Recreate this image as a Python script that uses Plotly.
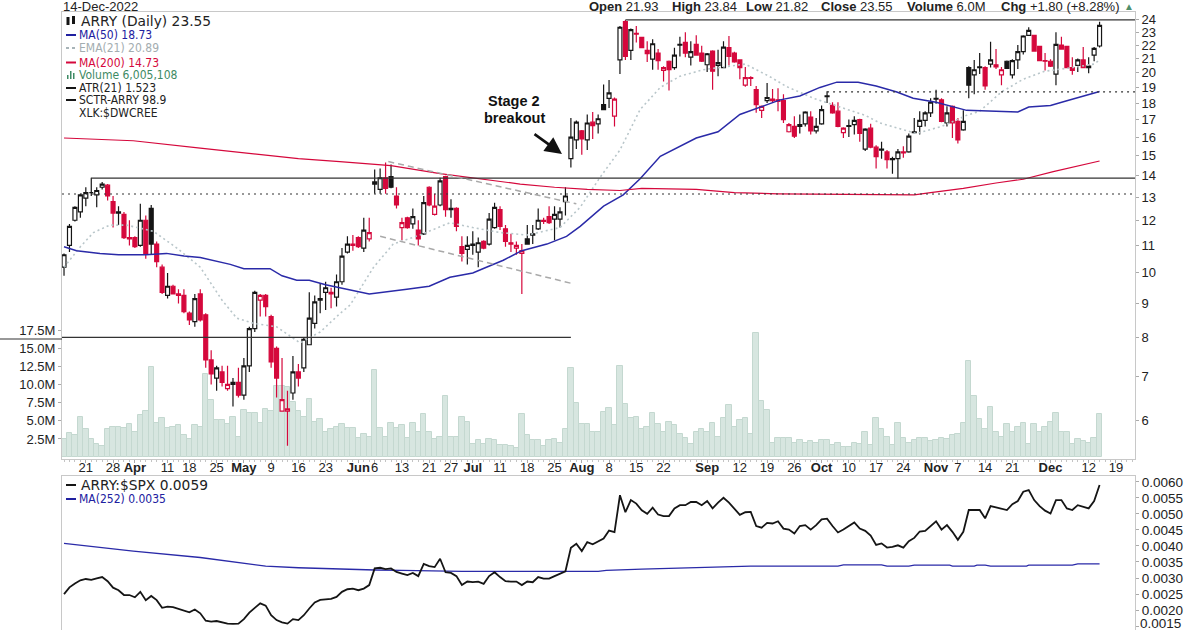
import plotly.graph_objects as go

# bar position of each labelled date (trading days since 15-Mar-2022)
tick_pos = [4, 9, 13, 19, 23, 28, 33, 38, 43, 48, 54, 57, 62, 67, 71, 75, 80, 85, 90, 95, 100, 105, 110,
            118, 124, 129, 134, 139, 144, 149, 154, 160, 164, 169, 174, 181, 188, 193]
tick_txt = ['21', '28', '<b>Apr</b>', '11', '18', '25', '<b>May</b>', '9', '16', '23', '<b>Jun</b>', '6', '13', '21', '27',
            '<b>Jul</b>', '11', '18', '25', '<b>Aug</b>', '8', '15', '22', '<b>Sep</b>', '12', '19', '26', '<b>Oct</b>', '10',
            '17', '24', '<b>Nov</b>', '7', '14', '21', '<b>Dec</b>', '12', '19']

opens = [10.2, 11.0, 12.0, 12.35, 12.95, 13.2, 13.1, 13.45, 13.55, 12.8, 12.3, 12.25, 11.3, 11.3, 11.0, 12.0, 12.5, 11.05, 10.2, 9.25,
         9.55, 9.3, 9.25, 8.7, 8.45, 9.3, 8.65, 7.4, 6.95, 7.1, 6.7, 6.8, 6.85, 6.55, 7.25, 8.25, 9.1, 9.25, 8.6, 7.7,
         6.2, 6.2, 6.6, 7.1, 7.2, 7.8, 8.4, 9.1, 9.35, 9.35, 9.2, 9.7, 10.75, 11.05, 11.3, 10.9, 11.25, 13.6, 13.35, 13.9,
         13.95, 13.05, 11.7, 12.1, 11.85, 11.6, 11.45, 13.45, 12.25, 12.65, 13.95, 12.45, 12.5, 10.95, 10.85, 11.0, 10.75, 11.15, 11.05, 11.7,
         12.45, 11.65, 11.1, 10.9, 10.7, 11.25, 11.4, 11.65, 12.0, 12.15, 12.05, 12.05, 12.8, 14.85, 15.85, 16.35, 15.85, 16.85, 16.75, 17.9,
         18.3, 17.2, 20.9, 23.85, 21.6, 22.9, 22.6, 21.6, 20.95, 21.4, 20.15, 20.8, 20.35, 22.0, 22.2, 21.1, 22.05, 21.4, 20.55, 21.55,
         20.5, 20.35, 21.8, 21.4, 20.9, 19.15, 19.65, 18.85, 17.55, 18.15, 18.25, 18.2, 18.15, 16.3, 16.6, 16.6, 16.75, 17.15, 16.35, 16.75,
         18.4, 17.85, 17.5, 16.25, 16.6, 16.7, 17.0, 15.35, 16.5, 15.45, 15.3, 15.2, 14.8, 14.85, 15.2, 15.2, 16.25, 16.6, 16.95, 17.4,
         18.25, 18.2, 16.8, 17.8, 16.9, 16.4, 20.35, 19.85, 20.35, 20.35, 20.6, 20.55, 19.85, 20.8, 19.85, 20.9, 21.5, 22.75, 22.75, 21.9,
         20.85, 20.8, 19.9, 22.0, 21.9, 20.35, 20.5, 20.9, 20.35, 21.25, 21.93]
highs = [10.7, 11.85, 12.6, 13.15, 13.45, 13.9, 13.45, 13.7, 13.6, 13.05, 12.6, 12.35, 12.0, 11.35, 12.7, 12.2, 12.65, 11.15, 10.3, 10.0,
         9.6, 9.45, 9.45, 8.75, 9.3, 9.45, 8.7, 7.65, 7.25, 7.25, 7.25, 6.95, 7.2, 7.45, 8.3, 9.4, 9.3, 9.3, 8.65, 7.75,
         7.45, 6.65, 7.5, 7.3, 8.0, 9.35, 9.25, 9.65, 9.7, 9.5, 9.95, 10.9, 11.35, 11.4, 11.35, 12.1, 12.1, 14.3, 14.35, 14.65,
         14.55, 13.45, 12.1, 12.15, 12.5, 12.0, 13.05, 13.5, 13.15, 13.9, 14.0, 12.9, 12.55, 11.35, 11.35, 11.55, 11.3, 11.2, 12.3, 12.75,
         12.6, 11.8, 11.45, 11.15, 11.05, 11.8, 11.8, 12.5, 12.1, 12.6, 12.6, 12.55, 13.45, 17.1, 16.95, 16.4, 17.3, 17.45, 17.3, 19.2,
         19.5, 18.35, 23.5, 24.0, 23.3, 23.5, 22.65, 22.3, 22.45, 21.7, 20.45, 20.85, 21.8, 22.65, 23.0, 22.3, 22.75, 21.95, 21.4, 21.6,
         21.65, 22.3, 22.7, 21.5, 20.95, 20.4, 19.75, 19.1, 17.85, 19.3, 18.9, 18.95, 18.55, 16.8, 17.2, 17.3, 17.5, 17.5, 17.1, 17.85,
         18.75, 18.05, 18.05, 16.55, 17.0, 17.2, 17.05, 16.5, 16.75, 15.55, 15.75, 15.3, 14.95, 15.35, 15.5, 16.2, 17.1, 17.5, 17.5, 18.3,
         18.85, 18.3, 17.8, 17.85, 17.1, 17.55, 20.45, 20.9, 21.4, 20.45, 22.25, 21.7, 20.4, 20.85, 20.95, 22.0, 22.75, 23.4, 22.8, 21.95,
         21.4, 20.95, 23.0, 22.65, 21.95, 21.1, 21.0, 21.85, 21.1, 21.85, 23.84]
lows = [9.9, 10.75, 11.95, 12.1, 12.6, 13.05, 12.55, 13.35, 12.85, 11.7, 11.8, 11.25, 11.0, 10.9, 10.95, 10.5, 10.65, 10.2, 9.3, 9.15,
        9.3, 9.0, 8.7, 8.35, 8.3, 8.45, 7.2, 6.8, 6.65, 6.75, 6.65, 6.3, 6.5, 6.45, 7.1, 8.15, 8.6, 8.6, 7.2, 6.5,
        6.2, 5.5, 6.45, 6.75, 7.1, 7.8, 8.25, 8.7, 8.8, 8.85, 8.9, 9.6, 10.7, 10.8, 10.9, 10.75, 11.15, 13.15, 13.15, 13.15,
        13.4, 12.5, 11.2, 11.65, 11.65, 11.0, 11.4, 12.6, 12.2, 12.6, 12.15, 12.1, 11.55, 10.4, 10.3, 10.65, 10.2, 10.85, 11.0, 11.65,
        11.6, 10.95, 10.75, 10.65, 9.3, 11.05, 11.05, 11.6, 11.85, 11.85, 11.2, 11.7, 12.2, 14.4, 15.35, 15.05, 15.3, 15.9, 16.2, 17.55,
        17.7, 16.6, 19.9, 20.9, 20.9, 22.2, 21.75, 20.75, 20.2, 20.2, 19.4, 18.8, 20.2, 21.15, 21.1, 20.5, 21.2, 20.75, 20.05, 18.85,
        19.75, 20.3, 20.5, 20.7, 19.55, 19.05, 19.1, 17.4, 17.1, 18.0, 18.0, 17.5, 16.8, 16.25, 15.95, 16.2, 16.6, 16.15, 16.2, 16.7,
        18.0, 17.35, 16.55, 15.95, 16.0, 16.15, 15.75, 15.25, 15.4, 14.35, 14.85, 14.35, 14.1, 13.85, 14.9, 15.15, 16.2, 16.15, 16.6, 17.15,
        17.95, 16.85, 16.6, 15.95, 15.65, 16.35, 18.3, 18.55, 19.9, 18.85, 20.35, 20.25, 19.15, 20.25, 19.6, 20.25, 21.3, 22.7, 21.5, 20.8,
        20.15, 20.4, 19.15, 21.65, 20.3, 19.85, 20.05, 20.3, 19.95, 20.8, 21.82]
closes = [10.65, 11.75, 12.55, 13.1, 13.2, 13.2, 13.3, 13.6, 13.05, 12.3, 12.35, 11.3, 11.25, 10.95, 12.0, 10.7, 11.05, 10.4, 9.35, 9.55,
          9.3, 9.25, 8.75, 8.5, 9.15, 8.5, 7.4, 7.05, 7.2, 6.85, 6.8, 6.85, 6.55, 7.25, 8.25, 9.35, 9.25, 8.9, 7.35, 6.95,
          6.45, 6.25, 7.1, 6.95, 7.95, 8.55, 9.05, 9.15, 9.5, 9.3, 9.7, 10.6, 11.05, 11.0, 10.95, 11.6, 11.5, 13.7, 13.9, 13.4,
          13.45, 12.65, 11.9, 11.7, 12.15, 11.25, 12.75, 12.65, 12.6, 13.75, 12.45, 12.5, 11.75, 10.7, 11.0, 11.05, 11.1, 10.9, 12.05, 12.55,
          11.75, 11.15, 11.05, 11.0, 10.8, 11.05, 11.45, 12.0, 11.95, 11.9, 12.25, 12.35, 13.05, 16.0, 16.85, 15.9, 16.8, 16.65, 17.05, 17.6,
          18.65, 18.25, 23.4, 21.15, 23.2, 22.85, 21.8, 21.35, 22.1, 20.85, 20.35, 20.2, 21.25, 22.05, 21.4, 21.5, 21.25, 20.8, 21.35, 20.1,
          20.7, 21.85, 21.15, 20.75, 20.35, 19.65, 19.6, 17.9, 17.8, 18.35, 18.15, 18.1, 17.0, 16.7, 16.05, 16.7, 17.45, 16.35, 16.6, 17.6,
          18.45, 17.4, 16.6, 16.5, 16.65, 16.95, 16.2, 16.45, 15.45, 14.95, 15.35, 14.8, 14.85, 15.2, 15.15, 16.05, 16.3, 16.95, 17.4, 18.05,
          18.3, 16.9, 17.4, 16.8, 15.85, 16.9, 19.15, 20.2, 20.4, 19.1, 20.9, 20.4, 20.2, 20.3, 20.85, 21.5, 22.7, 23.15, 21.55, 20.85,
          20.8, 20.45, 22.05, 21.7, 20.35, 20.15, 20.9, 20.35, 20.45, 21.75, 23.55]
volumes = [2.5, 3.3, 3.0, 5.6, 3.9, 2.5, 1.8, 1.5, 3.9, 4.2, 4.1, 4.0, 4.6, 3.4, 5.8, 6.4, 12.5, 4.7, 5.4, 4.0,
           4.1, 4.4, 3.0, 2.5, 4.4, 4.1, 11.5, 7.9, 5.1, 5.1, 4.6, 5.6, 2.8, 6.5, 6.1, 6.1, 4.7, 6.7, 6.4, 9.9,
           9.9, 9.7, 7.6, 6.4, 5.6, 8.1, 4.8, 5.3, 3.4, 3.9, 4.2, 4.6, 4.0, 4.0, 2.7, 3.2, 2.8, 12.0, 4.0, 2.8,
           4.7, 4.0, 4.4, 2.7, 4.7, 3.5, 6.0, 3.5, 2.5, 2.8, 8.5, 2.8, 2.8, 5.6, 4.9, 1.8, 2.4, 1.8, 2.5, 2.3,
           1.6, 1.6, 1.5, 1.3, 6.0, 3.0, 2.3, 2.3, 1.5, 2.3, 2.5, 2.0, 3.9, 12.4, 7.5, 4.6, 4.6, 3.5, 3.5, 6.3,
           6.8, 4.4, 12.6, 7.4, 5.4, 5.6, 3.9, 4.2, 6.1, 4.6, 3.5, 4.9, 4.4, 3.2, 2.7, 1.8, 3.4, 3.9, 3.4, 4.7,
           2.8, 5.4, 7.2, 4.2, 5.1, 5.4, 3.2, 17.2, 7.8, 6.5, 2.0, 2.7, 2.7, 2.7, 2.0, 2.3, 2.0, 2.2, 2.0, 2.3,
           2.3, 1.6, 2.0, 1.4, 1.4, 2.0, 1.8, 3.4, 1.6, 5.4, 3.9, 2.8, 1.6, 4.7, 2.7, 2.0, 2.3, 2.7, 2.7, 2.2,
           2.3, 2.7, 2.5, 3.0, 3.2, 4.7, 13.3, 8.5, 5.3, 3.9, 7.0, 3.5, 2.8, 4.6, 3.5, 4.1, 4.7, 1.8, 4.6, 3.5,
           4.1, 4.9, 6.1, 3.4, 3.5, 1.8, 2.5, 2.2, 2.0, 2.7, 6.01]

ma50_x = [0, 2.3, 6.6, 10, 15, 18.8, 22, 25, 30.5, 33, 37.8, 40, 42.7, 45, 48, 50.6, 56, 62.9, 67, 70.8, 75, 77.5, 80.6, 84,
          88.6, 92.2, 94.7, 99, 102.6, 105.7, 109.4, 116, 120, 124, 127.7, 131.4, 135, 138.7, 141.8, 145.7, 149, 152.8,
          155.8, 160, 165.6, 170.5, 175, 177, 181, 184, 190]
ma50_y = [10.95, 10.8, 10.7, 10.65, 10.65, 10.7, 10.6, 10.55, 10.3, 10.15, 10.15, 9.9, 9.75, 9.75, 9.6, 9.5, 9.3, 9.45, 9.55, 9.85, 10.0, 10.2, 10.45, 10.8,
          11.05, 11.35, 11.75, 12.6, 13.1, 13.85, 14.97, 15.95, 16.3, 17.3, 17.75, 18.2, 18.45, 19.0, 19.35, 19.35, 19.1, 18.7,
          18.3, 18.05, 17.55, 17.5, 17.45, 17.75, 17.85, 18.15, 18.73]
ema21_x = [0, 3, 5.4, 8.4, 11.5, 16.4, 20.7, 25, 29, 31.7, 34.8, 39, 43.3, 47, 50.7, 52.5, 56.8, 60.4, 65.3, 70.8, 75, 80, 85, 91, 94.7, 98.3,
           102, 105.7, 109.4, 113, 117.3, 121, 125, 129.6, 132.6, 137.5, 141.2, 147, 149.7, 154, 156.4, 161, 165.6, 168, 172, 176, 180, 185, 189, 190]
ema21_y = [10.2, 10.95, 11.5, 11.8, 11.8, 11.55, 10.9, 10.2, 9.1, 8.55, 8.4, 8.3, 7.85, 8.15, 8.7, 8.95, 10.2, 11.05, 11.4, 11.9, 11.7, 11.5, 11.4, 11.7, 12.55, 13.9,
           15.3, 17.6, 19.0, 19.75, 20.2, 20.4, 20.6, 19.7, 19.05, 18.3, 17.9, 17.25, 16.8, 16.4, 16.2, 16.6, 17.25, 17.5, 18.7, 19.55, 20.1, 20.35, 20.6, 20.89]
ma200_x = [0, 12.7, 25, 43, 50.6, 60, 69, 75, 83.7, 90, 96, 102, 106, 116, 123, 131, 153, 156, 159, 165, 171, 176, 181.5, 190]
ma200_y = [15.95, 15.8, 15.4, 14.85, 14.7, 14.5, 14.1, 13.9, 13.6, 13.45, 13.35, 13.3, 13.4, 13.35, 13.2, 13.15, 13.1, 13.1, 13.2, 13.4, 13.65, 13.83, 14.2, 14.73]

ratio = [2.50, 2.71, 2.83, 2.93, 2.97, 2.94, 2.99, 3.03, 2.90, 2.70, 2.62, 2.47, 2.47, 2.40, 2.57, 2.31, 2.44, 2.31, 2.07, 2.11,
         2.09, 2.03, 1.98, 1.93, 2.02, 1.90, 1.67, 1.64, 1.66, 1.62, 1.58, 1.57, 1.58, 1.72, 1.92, 2.07, 2.21, 2.14, 1.84, 1.69,
         1.62, 1.58, 1.72, 1.69, 1.84, 2.05, 2.24, 2.32, 2.34, 2.35, 2.41, 2.57, 2.65, 2.67, 2.62, 2.67, 2.78, 3.30, 3.32, 3.28,
         3.30, 3.19, 3.14, 3.09, 3.16, 3.06, 3.44, 3.37, 3.34, 3.60, 3.18, 3.16, 3.06, 2.78, 2.89, 2.87, 2.89, 2.82, 3.06, 3.18,
         3.03, 2.90, 2.89, 2.89, 2.78, 2.89, 2.87, 3.03, 2.98, 2.98, 3.06, 3.13, 3.21, 3.94, 4.07, 3.84, 4.12, 4.05, 4.15, 4.23,
         4.48, 4.43, 5.58, 5.05, 5.43, 5.32, 5.11, 5.00, 5.19, 4.98, 4.93, 4.93, 5.17, 5.27, 5.27, 5.37, 5.37, 5.27, 5.40, 5.17,
         5.35, 5.50, 5.35, 5.17, 4.97, 5.05, 5.06, 4.62, 4.57, 4.72, 4.70, 4.77, 4.54, 4.51, 4.39, 4.62, 4.65, 4.51, 4.65, 4.83,
         4.85, 4.62, 4.42, 4.51, 4.62, 4.73, 4.54, 4.47, 4.32, 4.03, 4.08, 3.95, 3.97, 4.02, 3.95, 4.15, 4.25, 4.45, 4.47, 4.63,
         4.77, 4.51, 4.65, 4.44, 4.19, 4.44, 5.12, 5.12, 5.12, 4.86, 5.24, 5.20, 5.15, 5.12, 5.30, 5.40, 5.69, 5.74, 5.43, 5.24,
         5.10, 5.01, 5.43, 5.43, 5.17, 5.12, 5.27, 5.22, 5.17, 5.40, 5.90]
ma252_x = [0, 12.7, 25, 37, 43, 49, 57, 62, 73, 98, 99.5, 106, 117, 126, 135, 142, 143, 150, 151, 155, 156, 162.5, 163, 167, 167.5,
           169, 170, 176.6, 177, 185, 186, 190]
ma252_y = [4.08, 3.84, 3.64, 3.37, 3.32, 3.28, 3.25, 3.24, 3.21, 3.21, 3.24, 3.28, 3.33, 3.37, 3.37, 3.37, 3.41, 3.41, 3.37, 3.37, 3.40, 3.40, 3.37, 3.37, 3.40,
           3.40, 3.37, 3.37, 3.40, 3.40, 3.44, 3.44]

price_ticks = [24, 23, 22, 21, 20, 19, 18, 17, 16, 15, 14, 13, 12, 11, 10, 9, 8, 7, 6]
vol_ticks = [2.5, 5.0, 7.5, 10.0, 12.5, 15.0, 17.5]
ratio_ticks = [6.0, 5.5, 5.0, 4.5, 4.0, 3.5, 3.0, 2.5, 2.0, 1.5]

RED = '#d5083c'
BLACK = '#151515'
BLUE = '#2a2aa8'
FONT = 'Liberation Sans'
NARROW = 'DejaVu Sans Condensed'
FRAME = '#c8c8c8'


def xp(px):
    return (px - 62) / 1073


def yp(py):
    return (630 - py) / 618


def label(px, py, text, color='#222222', size=12, family=FONT, anchor='left'):
    return dict(x=xp(px), y=yp(py), xref='paper', yref='paper', text=text, showarrow=False, xanchor=anchor,
                yanchor='middle', align=anchor, borderpad=0, font=dict(size=size, color=color, family=family))


def key_line(py, color, dash='solid'):
    return dict(type='line', xref='paper', yref='paper', x0=xp(66), x1=xp(76), y0=yp(py), y1=yp(py),
                line=dict(color=color, width=2, dash=dash))


def key_box(x0, x1, y0, y1, color):
    return dict(type='rect', xref='paper', yref='paper', x0=xp(x0), x1=xp(x1), y0=yp(y0), y1=yp(y1),
                fillcolor=color, line=dict(width=0))


idx = list(range(len(closes)))
fig = go.Figure()

fig.add_trace(go.Bar(x=idx, y=volumes, yaxis='y', xaxis='x', width=1.0,
                     marker=dict(color='#d7e6e0', line=dict(color='#c4d8d0', width=1))))

# bars are black when the close is up on the day before, red when it is down
for color in (BLACK, RED):
    keep = [i for i in idx if (i == 0 or closes[i] >= closes[i - 1]) == (color == BLACK)]
    fig.add_trace(go.Candlestick(
        x=keep, yaxis='y2', xaxis='x',
        open=[opens[i] for i in keep], high=[highs[i] for i in keep],
        low=[lows[i] for i in keep], close=[closes[i] for i in keep],
        whiskerwidth=0,
        increasing=dict(line=dict(color=color, width=1.2), fillcolor='white'),
        decreasing=dict(line=dict(color=color, width=1.2), fillcolor=color),
    ))

fig.add_trace(go.Scatter(x=ema21_x, y=ema21_y, yaxis='y2', mode='lines',
                         line=dict(color='#b9c6ca', width=1.6, dash='2px,3px')))
fig.add_trace(go.Scatter(x=ma50_x, y=ma50_y, yaxis='y2', mode='lines', line=dict(color=BLUE, width=1.5)))
fig.add_trace(go.Scatter(x=ma200_x, y=ma200_y, yaxis='y2', mode='lines', line=dict(color=RED, width=1.2)))

# drawn levels and trend lines
levels = [([5, 196.5], [13.88, 13.88], 'solid'), ([103, 196.5], [24, 24], 'solid'),
          ([-0.37, 196.5], [13.14, 13.14], '2px,4px'), ([140, 196.5], [18.71, 18.71], '2px,4px'),
          ([-0.37, 93], [8, 8], 'solid')]
for lx, ly, dash in levels:
    fig.add_trace(go.Scatter(x=lx, y=ly, yaxis='y2', mode='lines',
                             line=dict(color='#333333', width=1.2, dash=dash)))
trends = [([59.5, 94], [14.7, 12.7]), ([58, 93], [11.35, 9.65])]
for lx, ly in trends:
    fig.add_trace(go.Scatter(x=lx, y=ly, yaxis='y2', mode='lines',
                             line=dict(color='#a9a9a9', width=1.5, dash='6px,4px')))

fig.add_trace(go.Scatter(x=ma252_x, y=ma252_y, xaxis='x2', yaxis='y3', mode='lines', line=dict(color=BLUE, width=1.3)))
fig.add_trace(go.Scatter(x=idx, y=ratio, xaxis='x2', yaxis='y3', mode='lines', line=dict(color=BLACK, width=1.8)))

annotations = [
    label(62, 7, '14-Dec-2022', size=13),
    label(588, 7, '<b>Open</b> 21.93', size=13),
    label(671, 7, '<b>High</b> 23.84', size=13),
    label(745, 7, '<b>Low</b> 21.82', size=13),
    label(820, 7, '<b>Close</b> 23.55', size=13),
    label(906, 7, '<b>Volume</b> 6.0M', size=13),
    label(1000, 7, '<b>Chg</b> +1.80 (+8.28%)', size=13),
    label(1129, 6, '▲', color='#4f8f6b', size=10, anchor='center'),
    label(80, 21, 'ARRY (Daily) 23.55', size=13.8, family='DejaVu Sans'),
    label(78, 35, 'MA(50) 18.73', color='#2020a0', size=12, family=NARROW),
    label(78, 48, 'EMA(21) 20.89', color='#a3adb0', size=12, family=NARROW),
    label(78, 62.5, 'MA(200) 14.73', color='#d5083c', size=12, family=NARROW),
    label(78, 75, 'Volume 6,005,108', color='#3e8a64', size=12, family=NARROW),
    label(78, 88, 'ATR(21) 1.523', size=12, family=NARROW),
    label(78, 100, 'SCTR-ARRY 98.9', size=12, family=NARROW),
    label(78, 112.5, 'XLK:$DWCREE', size=12, family=NARROW),
    label(80, 485, 'ARRY:$SPX 0.0059', size=13.8, family='DejaVu Sans'),
    label(78, 499, 'MA(252) 0.0035', color='#2020a0', size=12, family=NARROW),
    label(514, 101, '<b>Stage 2</b>', color='#111111', size=14.5, anchor='center'),
    label(514, 118, '<b>breakout</b>', color='#111111', size=14.5, anchor='center'),
    label(1139, 623, '0.0015', size=13.5),
    dict(x=xp(562), y=yp(154), xref='paper', yref='paper', ax=-29, ay=-21, text='', showarrow=True,
         arrowhead=2, arrowsize=1.3, arrowwidth=2.6, arrowcolor='#111111'),
]

shapes = [
    key_line(35, '#2020a0'), key_line(48, '#a8b4b8', 'dot'), key_line(62.5, RED),
    key_line(88, BLACK), key_line(100, BLACK), key_line(485, BLACK), key_line(499, '#2020a0'),
    key_box(67, 68.5, 75, 79, '#3e8a64'), key_box(70, 71.5, 71, 79, '#3e8a64'), key_box(73, 74.5, 73, 79, '#3e8a64'),
    key_box(66.5, 69.5, 17, 25, BLACK), key_box(72, 75, 16, 24, BLACK),
    # the volume-scale line runs on through the left margin
    dict(type='line', xref='paper', yref='paper', x0=xp(0), x1=xp(62), y0=yp(339), y1=yp(339),
         line=dict(color='#333333', width=1.2)),
]

fig.update_layout(
    width=1200, height=630, margin=dict(l=62, r=65, t=12, b=0, autoexpand=False),
    paper_bgcolor='white', plot_bgcolor='white', showlegend=False, bargap=0, boxgap=0.15, boxgroupgap=0.15,
    font=dict(family=FONT, color='#222222', size=13),
    annotations=annotations, shapes=shapes,
    xaxis=dict(domain=[0, 1], anchor='y', range=[-0.37, 196.5], tickmode='array', tickvals=tick_pos, ticktext=tick_txt,
               tickangle=0, ticks='outside', ticklen=3, tickcolor='#aaaaaa', tickfont=dict(size=13), ticklabelstandoff=-7,
               showgrid=False, zeroline=False, showline=True, mirror=True, linecolor=FRAME,
               rangeslider=dict(visible=False), minor=dict(dtick=1, ticks='outside', ticklen=2, tickcolor='#c4c4c4')),
    yaxis=dict(domain=[(630 - 459) / 618, 1], range=[-0.28, 61.7], side='left', tickmode='array', tickvals=vol_ticks,
               ticktext=[f'{v:.1f}M' for v in vol_ticks], ticks='outside', ticklen=3, tickcolor='#aaaaaa',
               tickfont=dict(size=13), showgrid=False, zeroline=False, showline=True, linecolor=FRAME),
    yaxis2=dict(overlaying='y', anchor='x', side='right', type='log', range=[0.7204, 1.3921], tickmode='array',
                tickvals=price_ticks, ticktext=[str(v) for v in price_ticks], ticks='outside', ticklen=3,
                tickcolor='#aaaaaa', tickfont=dict(size=13), showgrid=False, zeroline=False, showline=True,
                linecolor=FRAME),
    xaxis2=dict(domain=[0, 1], anchor='y3', matches='x', showticklabels=False, ticks='', showgrid=False, zeroline=False,
                showline=True, mirror=True, linecolor=FRAME),
    yaxis3=dict(domain=[0, (630 - 476) / 618], anchor='x2', side='right', range=[1.38, 6.18], tickmode='array',
                tickvals=ratio_ticks, ticktext=[f'{v / 1000:.4f}' if v > 1.5 else '' for v in ratio_ticks], ticks='outside',
                ticklen=3, tickcolor='#aaaaaa', tickfont=dict(size=13.5), showgrid=False, zeroline=False, showline=True,
                mirror=True, linecolor=FRAME),
)

fig.write_html("out.html", config={'displayModeBar': False}, post_script="document.body.style.margin='0';")
